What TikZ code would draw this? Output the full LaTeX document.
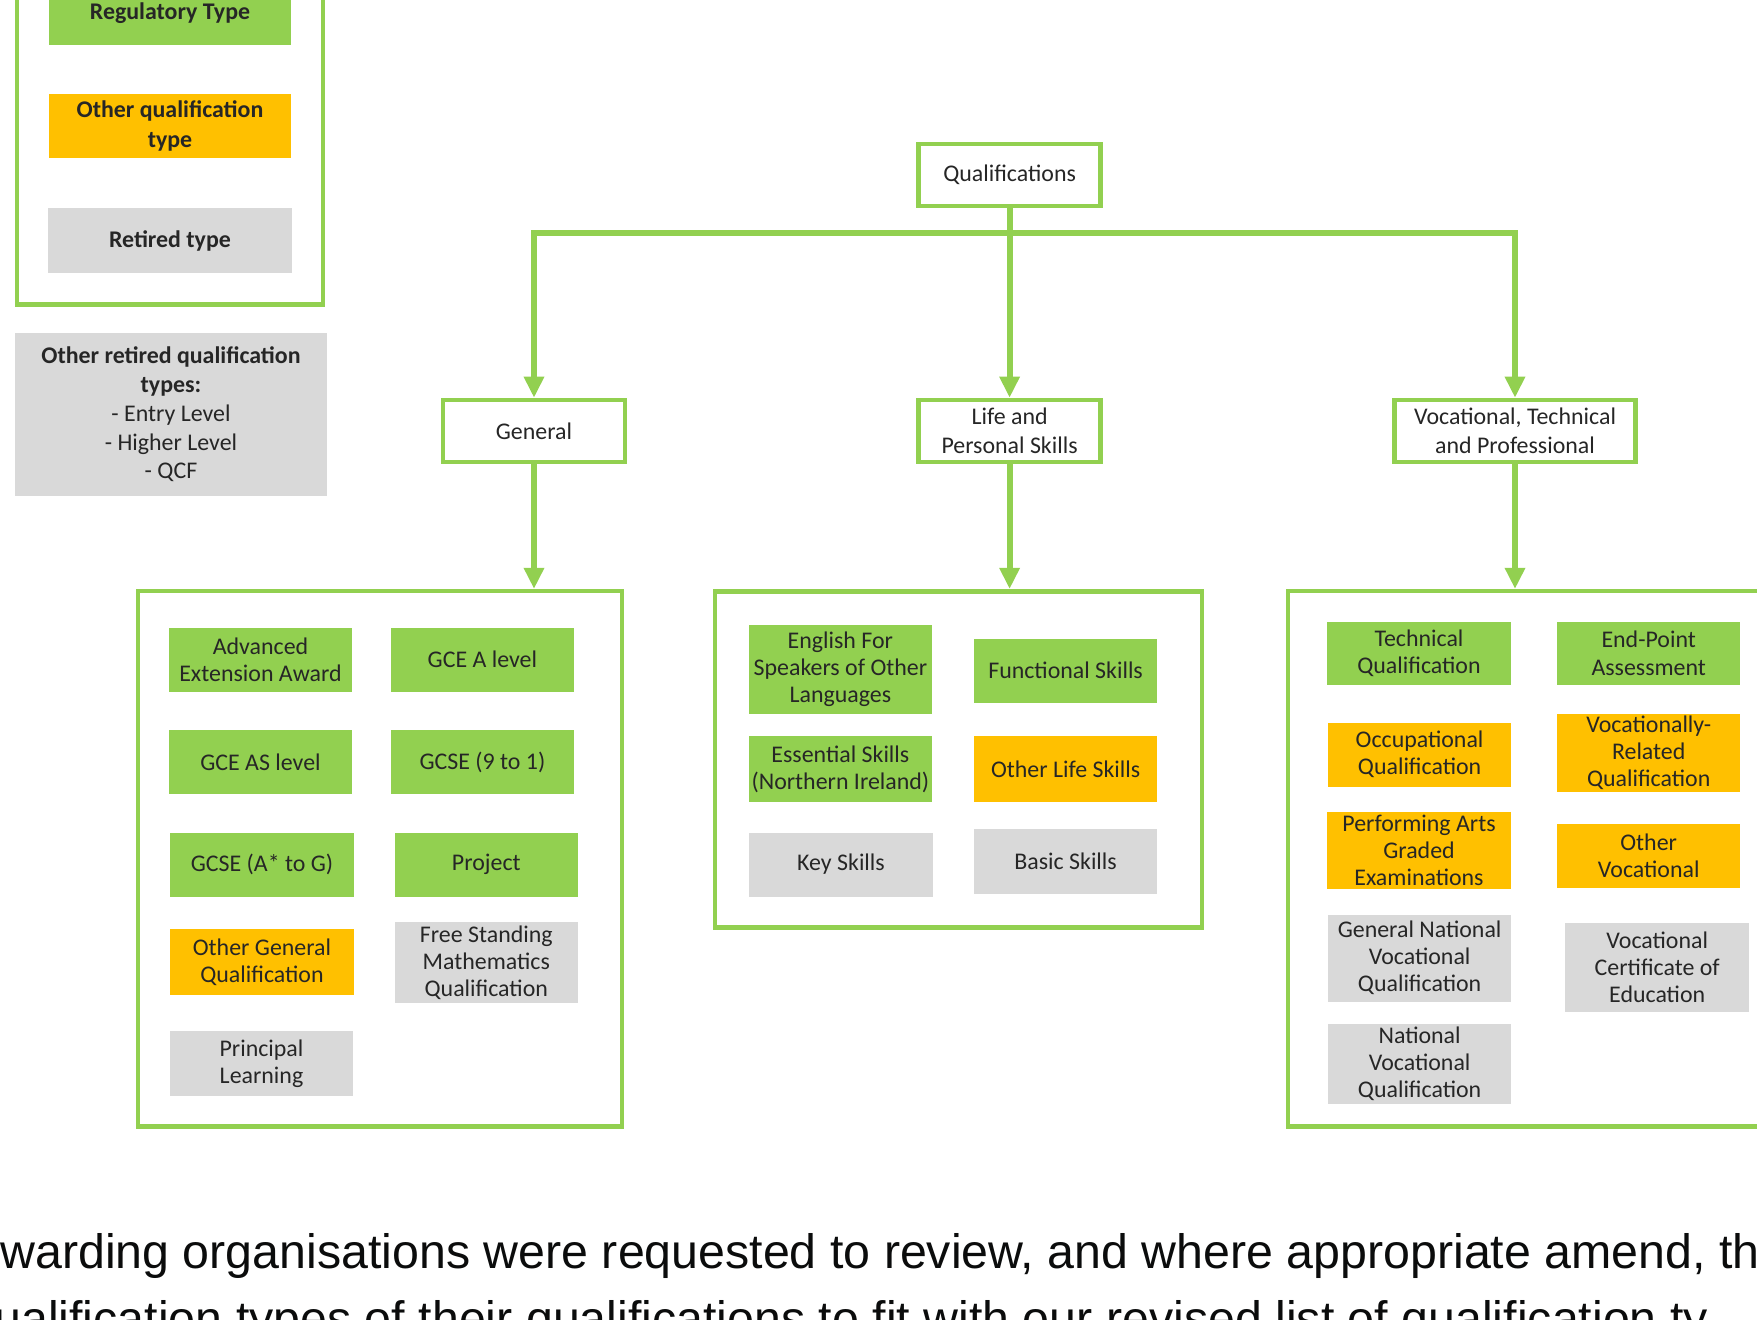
\documentclass[tikz,border=0pt]{standalone}
\usepackage{fontspec}
\setmainfont{Carlito}
\newfontfamily\govfont{Liberation Sans}
\usetikzlibrary{arrows.meta}

\definecolor{qgreen}{HTML}{92D050}
\definecolor{qorange}{HTML}{FFC000}
\definecolor{qgrey}{HTML}{D9D9D9}
\definecolor{qtext}{HTML}{262626}
\definecolor{govtext}{HTML}{0B0C0C}

\begin{document}
\begin{tikzpicture}[
  x=0.2mm,y=-0.2mm,
  font=\fontsize{13.6}{15.4}\selectfont,
  >={Triangle[length=12pt,width=11pt]},
  link/.style={draw=qgreen,line width=3.4pt},
  qframe/.style={draw=qgreen,line width=2.6pt},
  head/.style={qframe,fill=white,align=center,text=qtext,minimum width=36.4mm,minimum height=12.4mm,
    font=\fontsize{13.6}{16.5}\selectfont},
  panel/.style={qframe},
  item/.style={align=center,text=qtext,minimum width=36.7mm,minimum height=12.8mm,inner sep=1pt},
  reg/.style={item,fill=qgreen},
  oth/.style={item,fill=qorange},
  ret/.style={item,fill=qgrey},
  keybox/.style={align=center,text=qtext,minimum width=48.4mm,minimum height=12.8mm,
    font=\fontsize{13.6}{17}\selectfont\bfseries},
  para/.style={anchor=base west,inner sep=0pt,text=govtext,font=\govfont\fontsize{27.5}{38}\selectfont}]
  \useasboundingbox (0,0) rectangle (1757,1319);
  \clip (0,0) rectangle (1757,1319);

  % legend
  \node[qframe,minimum width=61.2mm,minimum height=69mm] (lgd) at (170,132) {};
  \node[keybox,fill=qgreen]  (lreg) at (170,13)    {Regulatory Type};
  \node[keybox,fill=qorange] (loth) at (170,126)   {Other qualification\\type};
  \node[keybox,fill=qgrey,minimum width=48.8mm,minimum height=13mm] (lret) at (170,240.5) {Retired type};
  \node[keybox,fill=qgrey,minimum width=62.4mm,minimum height=32.6mm,font=\fontsize{13.6}{16.4}\selectfont]
    (lold) at (171,414.5) {\textbf{Other retired qualification}\\\textbf{types:}\\- Entry Level\\- Higher Level\\- QCF};

  % tree
  \node[head] (qual) at (1009.6,175) {Qualifications};
  \node[head] (gen)  at (534,431)    {General};
  \node[head] (life) at (1009.6,431) {Life and\\Personal Skills};
  \node[head,minimum width=48.2mm] (voc) at (1515,431) {Vocational, Technical\\and Professional};

  \node[panel,minimum width=96.8mm,minimum height=107mm]  (genp)  at (379.8,858.7) {};
  \node[panel,minimum width=97.4mm,minimum height=67.3mm] (lifep) at (958.6,759.5) {};
  \node[panel,minimum width=102mm,minimum height=107mm]   (vocp)  at (1543,858.7)  {};

  \draw[link,->] (qual) -- (life);
  \draw[link,->] (qual.south) -- +(0,25) -| (gen.north);
  \draw[link,->] (qual.south) -- +(0,25) -| (voc.north);
  \draw[link,->] (gen)  -- (genp.north -| gen);
  \draw[link,->] (life) -- (lifep.north -| life);
  \draw[link,->] (voc)  -- (vocp.north -| voc);

  % general
  \node[reg] (aea)   at (260.5,659.5) {Advanced\\Extension Award};
  \node[reg] (gcea)  at (482.4,659.5) {GCE A level};
  \node[reg] (gceas) at (260.5,762)   {GCE AS level};
  \node[reg] (gcsen) at (482.4,762)   {GCSE (9 to 1)};
  \node[reg] (gcsel) at (262,864.5)   {GCSE (A* to G)};
  \node[reg] (proj)  at (486.3,864.5) {Project};
  \node[oth,minimum height=13.2mm] (ogq)  at (262,962)     {Other General\\Qualification};
  \node[ret,minimum height=16.2mm] (fsmq) at (486.3,962.4) {Free Standing\\Mathematics\\Qualification};
  \node[ret,minimum height=13mm]   (pl)   at (261.5,1063.5) {Principal\\Learning};

  % life and personal skills
  \node[reg,minimum height=17.8mm] (esol) at (840.4,669.4)  {English For\\Speakers of Other\\Languages};
  \node[reg]                       (fs)   at (1065.6,670.6) {Functional Skills};
  \node[reg,minimum height=13.2mm] (es)   at (840.4,769)    {Essential Skills\\(Northern Ireland)};
  \node[oth,minimum height=13.2mm] (ols)  at (1065.6,769)   {Other Life Skills};
  \node[ret]                       (ks)   at (841,864.5)    {Key Skills};
  \node[ret,minimum height=13mm]   (bs)   at (1065.6,861.5) {Basic Skills};

  % vocational, technical and professional
  \node[reg,minimum height=12.6mm] (tq)    at (1419,653.3)   {Technical\\Qualification};
  \node[reg,minimum height=12.6mm] (epa)   at (1648.7,653.3) {End-Point\\Assessment};
  \node[oth]                       (oq)    at (1419.6,754.6) {Occupational\\Qualification};
  \node[oth,minimum height=15.6mm] (vrq)   at (1648.7,753)   {Vocationally-\\Related\\Qualification};
  \node[oth,minimum height=15.4mm] (paged) at (1419,850)     {Performing Arts\\Graded\\Examinations};
  \node[oth]                       (ov)    at (1648.7,855.5) {Other\\Vocational};
  \node[ret,minimum height=17.4mm] (gnvq)  at (1419.6,958)   {General National\\Vocational\\Qualification};
  \node[ret,minimum height=17.7mm] (vce)   at (1657.2,967.5) {Vocational\\Certificate of\\Education};
  \node[ret,minimum height=16mm]   (nvq)   at (1419.6,1064)  {National\\Vocational\\Qualification};

  % text below the chart
  \node[para] (line1) at (0,1268)  {warding organisations were requested to review, and where appropriate amend, th};
  \node[para] (line2) at (-6,1335) {ualification types of their qualifications to fit with our revised list of qualification ty};
\end{tikzpicture}
\end{document}
